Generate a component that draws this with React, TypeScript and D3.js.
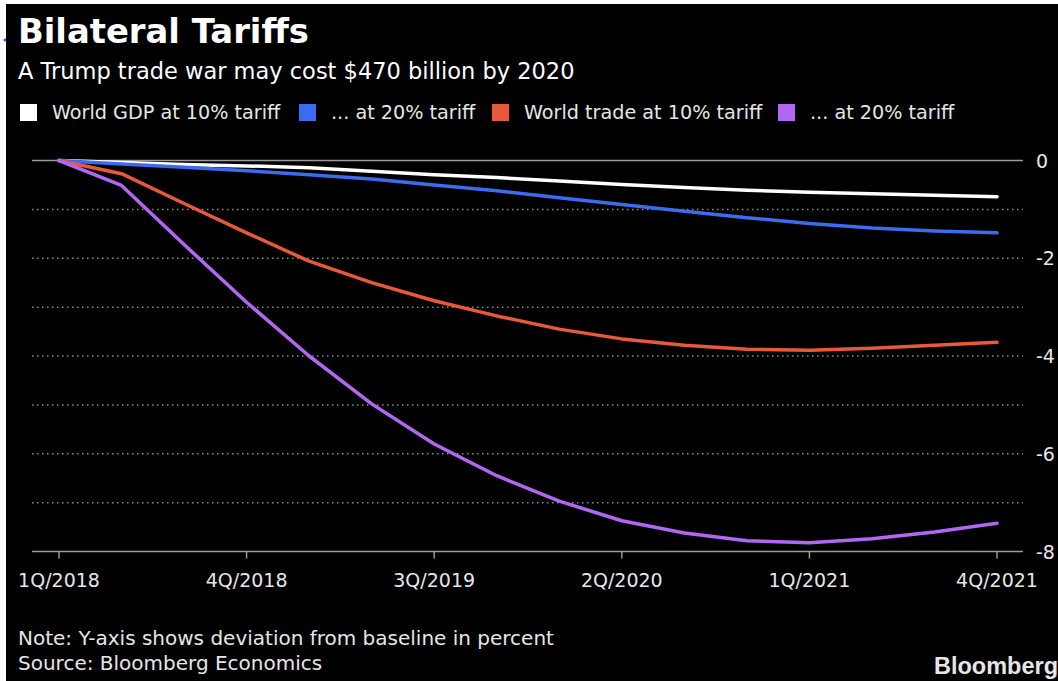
import React from "react";
import * as d3 from "d3";

const quarters = ["1Q/2018","2Q/2018","3Q/2018","4Q/2018","1Q/2019","2Q/2019","3Q/2019","4Q/2019","1Q/2020","2Q/2020","3Q/2020","4Q/2020","1Q/2021","2Q/2021","3Q/2021","4Q/2021"];
const tickLabels = ["1Q/2018","4Q/2018","3Q/2019","2Q/2020","1Q/2021","4Q/2021"];
const yTicks = [0, -2, -4, -6, -8];
const gridValues = [-1, -2, -3, -4, -5, -6, -7];

const gdp10 = [0, -0.04, -0.08, -0.11, -0.15, -0.22, -0.29, -0.35, -0.42, -0.49, -0.55, -0.61, -0.65, -0.68, -0.71, -0.74];
const gdp20 = [0, -0.07, -0.14, -0.21, -0.29, -0.38, -0.5, -0.62, -0.76, -0.9, -1.04, -1.17, -1.29, -1.38, -1.44, -1.48];
const trade10 = [0, -0.27, -0.88, -1.48, -2.06, -2.5, -2.87, -3.18, -3.45, -3.65, -3.78, -3.86, -3.88, -3.84, -3.78, -3.72];
const trade20 = [0, -0.51, -1.72, -2.9, -4.0, -4.98, -5.8, -6.45, -6.97, -7.37, -7.62, -7.78, -7.82, -7.74, -7.6, -7.42];

const seriesNames = ["World GDP at 10% tariff", "... at 20% tariff", "World trade at 10% tariff", "... at 20% tariff"];
const seriesColors = ["#ffffff", "#3a6cf0", "#e8593a", "#b267f2"];
const seriesData = [gdp10, gdp20, trade10, trade20];
const legendX = [20, 299, 492, 778];

const W = 1058, H = 681;
const FONT = "'DejaVu Sans', sans-serif";

export default function App() {
  const x = d3.scalePoint<string>().domain(quarters).range([59, 997]);
  const y = d3.scaleLinear().domain([0, -8]).range([160.5, 551.5]);
  const line = d3.line<number>()
    .x((_, i) => x(quarters[i]) as number)
    .y((d) => y(d))
    .curve(d3.curveLinear);

  return (
    <svg width={W} height={H} style={{ position: "absolute", left: 0, top: 0 }} fontFamily={FONT}>
      <rect x={0} y={0} width={W} height={H} fill="#ffffff" />
      <rect x={6} y={4} width={W - 6} height={H - 4} fill="#000000" />
      <circle cx={5} cy={40} r={1.5} fill="#3a4fc0" />
      <text x={18} y={43} fill="#ffffff" fontSize={33.8} fontWeight="bold">Bilateral Tariffs</text>
      <text x={18} y={79} fill="#ffffff" fontSize={22.5}>A Trump trade war may cost $470 billion by 2020</text>

      {seriesNames.map((name, i) => (
        <g key={i}>
          <rect x={legendX[i]} y={104} width={17} height={17} fill={seriesColors[i]} />
          <text x={legendX[i] + 32} y={119} fill="#e6e6e6" fontSize={19.2}>{name}</text>
        </g>
      ))}

      {gridValues.map((v) => (
        <line key={v} x1={32} x2={1023} y1={y(v)} y2={y(v)} stroke="#8a8a8a" strokeWidth={1.5} strokeDasharray="1.5,3.5" />
      ))}
      <line x1={32} x2={1023} y1={y(0)} y2={y(0)} stroke="#9a9a9a" strokeWidth={1.5} />
      <line x1={32} x2={1023} y1={y(-8)} y2={y(-8)} stroke="#9a9a9a" strokeWidth={1.5} />

      {yTicks.map((v) => (
        <text key={v} x={1036} y={y(v) + 7} fill="#e6e6e6" fontSize={19}>{v === 0 ? "0" : "-" + Math.abs(v)}</text>
      ))}

      {tickLabels.map((t) => (
        <g key={t}>
          <line x1={x(t)} x2={x(t)} y1={y(-8)} y2={y(-8) + 7} stroke="#9a9a9a" strokeWidth={1.5} />
          <text x={x(t)} y={587} fill="#e6e6e6" fontSize={19} textAnchor="middle">{t}</text>
        </g>
      ))}

      {seriesData.map((d, i) => (
        <path key={i} d={line(d) || ""} fill="none" stroke={seriesColors[i]} strokeWidth={3.5} strokeLinejoin="round" strokeLinecap="round" />
      ))}

      <text x={18} y={645} fill="#e6e6e6" fontSize={20}>Note: Y-axis shows deviation from baseline in percent</text>
      <text x={18} y={670} fill="#e6e6e6" fontSize={20}>Source: Bloomberg Economics</text>
      <text x={934} y={674} fill="#e6e6e6" fontSize={23.5} fontWeight="bold" fontFamily="'Liberation Sans', Arial, sans-serif">Bloomberg</text>
    </svg>
  );
}
